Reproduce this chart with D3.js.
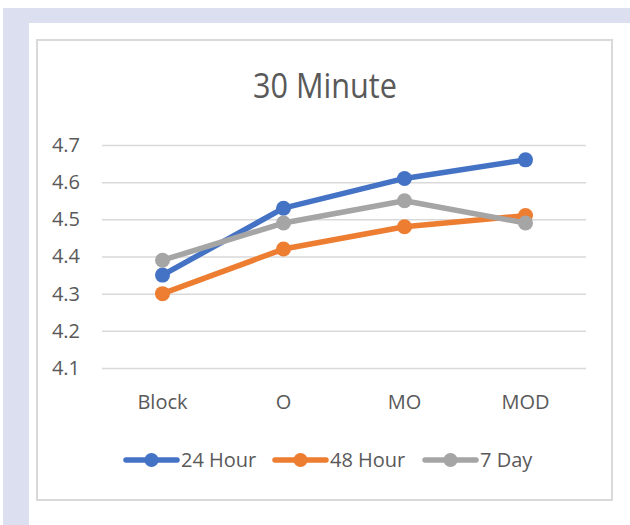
<!DOCTYPE html>
<html>
<head>
<meta charset="utf-8">
<script src="https://cdn.jsdelivr.net/npm/d3@7"></script>
<style>
  body { margin: 0; background: #fff; }
  svg { display: block; font-family: "Open Sans", "Noto Sans", sans-serif; }
</style>
</head>
<body>
<div id="chart"></div>
<script>
// chart data
var categories = ['Block', 'O', 'MO', 'MOD'];
var seriesNames = ['24 Hour', '48 Hour', '7 Day'];
var seriesColors = ['#4472c4', '#ed7d31', '#a5a5a5'];
var hour24 = [4.35, 4.53, 4.61, 4.66];
var hour48 = [4.30, 4.42, 4.48, 4.51];
var day7 = [4.39, 4.49, 4.55, 4.49];
var yTicks = [4.1, 4.2, 4.3, 4.4, 4.5, 4.6, 4.7];
var title = '30 Minute';

var width = 630, height = 525;
var svg = d3.select('#chart').append('svg')
  .attr('width', width)
  .attr('height', height);

// page frame (lavender strips)
svg.append('rect').attr('x', 3).attr('y', 8).attr('width', width - 3).attr('height', 15).attr('fill', '#dbdfef');
svg.append('rect').attr('x', 3).attr('y', 8).attr('width', 26).attr('height', height - 8).attr('fill', '#dbdfef');

// chart box
svg.append('rect')
  .attr('x', 37).attr('y', 40)
  .attr('width', 575).attr('height', 460)
  .attr('fill', '#fff')
  .attr('stroke', '#d9d9d9')
  .attr('stroke-width', 2);

// title
svg.append('text')
  .attr('x', 325).attr('y', 98)
  .attr('text-anchor', 'middle')
  .attr('font-size', 35)
  .attr('fill', '#595959')
  .attr('textLength', 144)
  .attr('lengthAdjust', 'spacingAndGlyphs')
  .text(title);

var plot = { left: 102, right: 586, top: 145, bottom: 368 };

var x = d3.scaleBand()
  .domain(categories)
  .range([plot.left, plot.right]);

var y = d3.scaleLinear()
  .domain([4.1, 4.7])
  .range([plot.bottom, plot.top]);

// gridlines + y labels
var yAxis = g => g
  .attr('transform', `translate(${plot.left},0)`)
  .call(d3.axisLeft(y).tickValues(yTicks).tickFormat(d3.format('.1f'))
    .tickSize(-(plot.right - plot.left)).tickPadding(22))
  .call(g => g.select('.domain').remove())
  .call(g => g.selectAll('.tick line').attr('stroke', '#d9d9d9').attr('stroke-width', 1.5))
  .call(g => g.selectAll('.tick text')
    .attr('fill', '#595959')
    .attr('font-size', 20)
    .attr('font-family', '"Open Sans", sans-serif'));
svg.append('g').call(yAxis);

// x labels
var xAxis = g => g
  .attr('transform', `translate(0,${plot.bottom})`)
  .call(d3.axisBottom(x).tickSize(0).tickPadding(27))
  .call(g => g.select('.domain').remove())
  .call(g => g.selectAll('.tick text')
    .attr('fill', '#595959')
    .attr('font-size', 20)
    .attr('font-family', '"Open Sans", sans-serif'));
svg.append('g').call(xAxis);

var seriesData = [hour24, hour48, day7];
var line = d3.line()
  .x((d, i) => x(categories[i]) + x.bandwidth() / 2)
  .y(d => y(d));

seriesData.forEach((values, s) => {
  var g = svg.append('g');
  g.append('path')
    .datum(values)
    .attr('d', line)
    .attr('fill', 'none')
    .attr('stroke', seriesColors[s])
    .attr('stroke-width', 5.5)
    .attr('stroke-linejoin', 'round')
    .attr('stroke-linecap', 'round');
  g.selectAll('circle')
    .data(values)
    .enter()
    .append('circle')
    .attr('cx', (d, i) => x(categories[i]) + x.bandwidth() / 2)
    .attr('cy', d => y(d))
    .attr('r', 7.5)
    .attr('fill', seriesColors[s]);
});

// legend
var legendX = [126, 275, 425];
var legend = svg.append('g').attr('transform', 'translate(0,460)');
seriesNames.forEach((name, s) => {
  var item = legend.append('g').attr('transform', `translate(${legendX[s]},0)`);
  item.append('line')
    .attr('x1', 0).attr('x2', 51)
    .attr('y1', 0).attr('y2', 0)
    .attr('stroke', seriesColors[s])
    .attr('stroke-width', 5.5)
    .attr('stroke-linecap', 'round');
  item.append('circle')
    .attr('cx', 25.5).attr('cy', 0).attr('r', 7)
    .attr('fill', seriesColors[s]);
  item.append('text')
    .attr('x', 55).attr('y', 0)
    .attr('dy', '0.35em')
    .attr('font-size', 20)
    .attr('fill', '#595959')
    .text(name);
});
</script>
</body>
</html>
